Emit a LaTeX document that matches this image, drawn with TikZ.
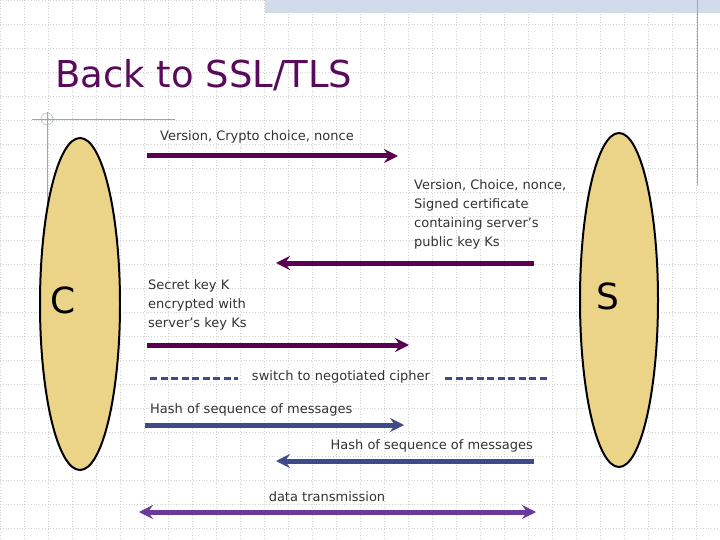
\documentclass[tikz,border=0pt]{standalone}
\usepackage{fontspec}
\setmainfont{DejaVu Sans}
\usetikzlibrary{arrows.meta,patterns}
\definecolor{ttl}{HTML}{5A0A5A}
\definecolor{msg}{HTML}{5A0050}
\definecolor{hsh}{HTML}{3F4A8A}
\definecolor{dat}{HTML}{6A3A9A}
\definecolor{deco}{HTML}{8FA6C8}
\definecolor{elf}{HTML}{EBD488}
\begin{document}
\begin{tikzpicture}[x=1pt,y=-1pt,
  party/.style={draw=black,line width=2pt,fill=elf},
  lbl/.style={font=\fontsize{13}{19}\selectfont,text=black!80,inner sep=0},
  arr/.style={line width=5pt,-{Stealth[length=14pt,width=14pt,inset=5pt]}}]
\useasboundingbox (0,0) rectangle (720,540);
\fill[white] (0,0) rectangle (720,540);
\foreach \i in {0,24,...,720} \draw[gray!35,dotted,line width=0.8pt] (\i,0) -- (\i,540);
\foreach \i in {0,24,...,540} \draw[gray!35,dotted,line width=0.8pt] (0,\i) -- (720,\i);
\fill[deco!40] (265,0) rectangle (720,13);
\draw[deco] (697,0) -- (697,185);
\draw[deco] (32,119) -- (175,119);
\draw[deco] (47,112) -- (47,260);
\draw[deco] (47,119) circle (6);
\node[anchor=west,text=ttl,font=\fontsize{37}{44}\selectfont,inner sep=0] (title) at (55,75) {Back to SSL/TLS};
\draw[party] (80,304) ellipse [x radius=40, y radius=166];
\draw[party] (619,300) ellipse [x radius=39, y radius=167];
\node[font=\fontsize{36}{40}\selectfont] (C) at (63,300) {C};
\node[font=\fontsize{36}{40}\selectfont] (S) at (608,296) {S};
\coordinate (a1) at (147,156); \coordinate (b1) at (398,156);
\coordinate (a2) at (534,263); \coordinate (b2) at (276,263);
\coordinate (a3) at (147,345); \coordinate (b3) at (409,345);
\coordinate (a5) at (145,425); \coordinate (b5) at (404,425);
\coordinate (a6) at (534,461); \coordinate (b6) at (276,461);
\coordinate (a7) at (139,512); \coordinate (b7) at (536,512);
\draw[arr,msg] (a1) -- (b1);
\draw[arr,msg] (a2) -- (b2);
\draw[arr,msg] (a3) -- (b3);
\draw[arr,hsh] (a5) -- (b5);
\draw[arr,hsh] (a6) -- (b6);
\draw[line width=5pt,dat,{Stealth[length=14pt,width=14pt,inset=5pt]}-{Stealth[length=14pt,width=14pt,inset=5pt]}] (a7) -- (b7);
\node[lbl,anchor=west] (l1) at (160,137) {Version, Crypto choice, nonce};
\node[lbl,anchor=north west,align=left] (l2) at (414,179) {Version, Choice, nonce,\\Signed certificate\\containing server’s\\public key Ks};
\node[lbl,anchor=north west,align=left] (l3) at (148,279) {Secret key K\\encrypted with\\server’s key Ks};
\node[lbl] (l4) at (341,377) {switch to negotiated cipher};
\coordinate (d1) at (150,378); \coordinate (d2) at (238,378);
\coordinate (d3) at (445,378); \coordinate (d4) at (548,378);
\draw[hsh,line width=3pt,dash pattern=on 7pt off 3.5pt] (d1) -- (d2);
\draw[hsh,line width=3pt,dash pattern=on 7pt off 3.5pt] (d3) -- (d4);
\node[lbl,anchor=west] (l5) at (150,410) {Hash of sequence of messages};
\node[lbl,anchor=east] (l6) at (533,446) {Hash of sequence of messages};
\node[lbl] (l7) at (327,497) {data transmission};
\end{tikzpicture}
\end{document}
